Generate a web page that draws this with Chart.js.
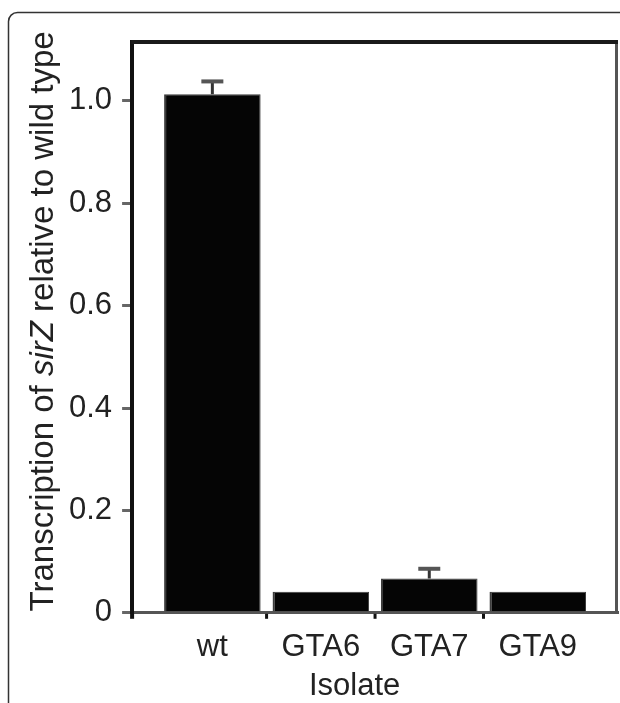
<!DOCTYPE html>
<html>
<head>
<meta charset="utf-8">
<script src="https://cdn.jsdelivr.net/npm/chart.js@4.4.1/dist/chart.umd.min.js"></script>
<style>
  html, body { margin: 0; padding: 0; background: #fff; }
  canvas { display: block; }
</style>
</head>
<body>
<canvas id="chart" width="620" height="703"></canvas>
<script>
// values
const categories = ['wt', 'GTA6', 'GTA7', 'GTA9'];
const transcription = [1.013, 0.041, 0.067, 0.041];
const errorUp = [0.025, 0, 0.019, 0];
const yTicks = [0, 0.2, 0.4, 0.6, 0.8, 1.0];

const FONT = "'Liberation Sans', Arial, Helvetica, sans-serif";
const TEXT = '#222';

// outer rounded frame of the figure panel
const panelFrame = {
    id: 'panelFrame',
    beforeDraw(chart) {
        const ctx = chart.ctx;
        const r = 9;
        ctx.save();
        ctx.strokeStyle = '#333';
        ctx.lineWidth = 1.5;
        ctx.beginPath();
        ctx.moveTo(8.5, chart.height);
        ctx.lineTo(8.5, 12.5 + r);
        ctx.arcTo(8.5, 12.5, 8.5 + r, 12.5, r);
        ctx.lineTo(chart.width, 12.5);
        ctx.stroke();
        ctx.restore();
    }
};

// up-only error bars, top/right frame lines, boundary ticks, axis titles
const extras = {
    id: 'extras',
    afterDatasetsDraw(chart) {
        const ctx = chart.ctx;
        const x = chart.scales.x;
        const y = chart.scales.y;
        const area = chart.chartArea;
        ctx.save();

        // error bars
        errorUp.forEach((e, i) => {
            if (!e) return;
            const px = x.getPixelForValue(i);
            const yTop = y.getPixelForValue(transcription[i] + e);
            const yBar = y.getPixelForValue(transcription[i]);
            ctx.strokeStyle = '#333';
            ctx.lineWidth = 3;
            ctx.beginPath();
            ctx.moveTo(px, yBar);
            ctx.lineTo(px, yTop);
            ctx.stroke();
            ctx.strokeStyle = '#555';
            ctx.lineWidth = 4;
            ctx.beginPath();
            ctx.moveTo(px - 11, yTop);
            ctx.lineTo(px + 11, yTop);
            ctx.stroke();
        });

        // ticks between categories
        ctx.strokeStyle = '#111';
        ctx.lineWidth = 3;
        for (let i = 0; i < categories.length - 1; i++) {
            const px = x.getPixelForValue(i + 0.5);
            ctx.beginPath();
            ctx.moveTo(px, area.bottom + 1);
            ctx.lineTo(px, area.bottom + 6);
            ctx.stroke();
        }

        // y axis line runs a little below the x axis
        ctx.strokeStyle = '#111';
        ctx.lineWidth = 4;
        ctx.beginPath();
        ctx.moveTo(area.left, area.bottom);
        ctx.lineTo(area.left, area.bottom + 6);
        ctx.stroke();

        // top and right frame lines
        ctx.strokeStyle = '#555';
        ctx.lineWidth = 3;
        ctx.beginPath();
        ctx.moveTo(area.right - 1.5, area.top);
        ctx.lineTo(area.right - 1.5, area.bottom);
        ctx.stroke();
        ctx.strokeStyle = '#1a1a1a';
        ctx.lineWidth = 4;
        ctx.beginPath();
        ctx.moveTo(area.left - 1, area.top);
        ctx.lineTo(area.right, area.top);
        ctx.stroke();

        // y axis title with italic gene name
        const parts = [
            ['Transcription of ', 'normal'],
            ['sirZ', 'italic'],
            [' relative to wild type', 'normal']
        ];
        const size = 33;
        let total = 0;
        parts.forEach(p => {
            ctx.font = `${p[1]} ${size}px ${FONT}`;
            total += ctx.measureText(p[0]).width;
        });
        ctx.fillStyle = TEXT;
        ctx.textBaseline = 'alphabetic';
        ctx.textAlign = 'left';
        ctx.translate(area.left - 79, (area.top + area.bottom) / 2 - 6);
        ctx.rotate(-Math.PI / 2);
        let cx = -total / 2;
        parts.forEach(p => {
            ctx.font = `${p[1]} ${size}px ${FONT}`;
            ctx.fillText(p[0], cx, 0);
            cx += ctx.measureText(p[0]).width;
        });
        ctx.setTransform(1, 0, 0, 1, 0, 0);

        // x axis title
        ctx.font = `normal 31px ${FONT}`;
        ctx.textAlign = 'center';
        ctx.fillText('Isolate', area.left + (area.right - area.left) * 0.458, area.bottom + 82);

        ctx.restore();
    }
};

new Chart(document.getElementById('chart'), {
    type: 'bar',
    data: {
        datasets: [{
            data: transcription.map((v, i) => ({ x: i, y: v })),
            backgroundColor: '#050505',
            borderColor: '#3c3c3c',
            borderWidth: { left: 2, top: 1, right: 1, bottom: 0 },
            borderSkipped: 'bottom',
            categoryPercentage: 0.89,
            barPercentage: 1
        }]
    },
    options: {
        responsive: false,
        devicePixelRatio: 1,
        animation: false,
        layout: { padding: { left: 59, right: 2, top: 42, bottom: 21 } },
        plugins: {
            legend: { display: false },
            tooltip: { enabled: false }
        },
        scales: {
            x: {
                type: 'linear',
                offset: false,
                min: -0.74,
                max: 3.74,
                afterBuildTicks: scale => {
                    scale.ticks = categories.map((c, i) => ({ value: i }));
                },
                ticks: {
                    callback: v => categories[v],
                    autoSkip: false,
                    maxRotation: 0,
                    padding: 16,
                    color: TEXT,
                    font: { family: FONT, size: 31 }
                },
                grid: { display: false, drawTicks: false, offset: false },
                border: { color: '#555', width: 3 }
            },
            y: {
                min: 0,
                max: 1.115,
                afterBuildTicks: scale => {
                    scale.ticks = yTicks.map(v => ({ value: v }));
                },
                ticks: {
                    callback: v => (v === 0 ? '0' : v.toFixed(1)),
                    padding: 10,
                    color: TEXT,
                    font: { family: FONT, size: 31 }
                },
                grid: {
                    drawOnChartArea: false,
                    tickLength: 10,
                    color: '#666',
                    lineWidth: 3
                },
                border: { color: '#111', width: 4 }
            }
        }
    },
    plugins: [panelFrame, extras]
});
</script>
</body>
</html>
